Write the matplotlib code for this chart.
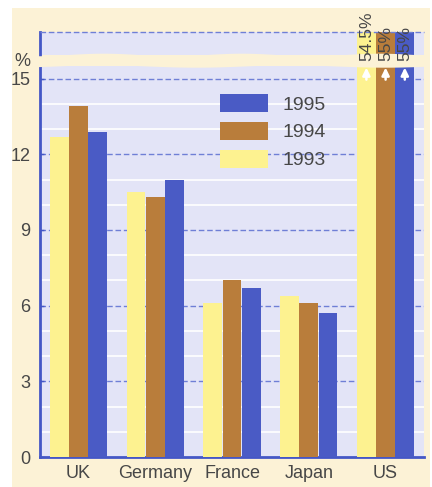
import numpy as np
import matplotlib
matplotlib.use("Agg")
import matplotlib.pyplot as plt
from matplotlib.patches import Rectangle, Polygon, Patch
from matplotlib.transforms import blended_transform_factory

plt.rcParams['font.family'] = ['Liberation Sans', 'DejaVu Sans']

# Data
countries = ["UK", "Germany", "France", "Japan", "US"]
years = ["1993", "1994", "1995"]
v1993 = [12.7, 10.5, 6.1, 6.4, 54.5]
v1994 = [13.9, 10.3, 7.0, 6.1, 55.0]
v1995 = [12.9, 11.0, 6.7, 5.7, 55.0]
us_labels = ["54.5%", "55%", "55%"]
yticks = [0, 3, 6, 9, 12, 15]

series = [v1993, v1994, v1995]
colors = ["#fdf290", "#b97d3b", "#4a5bc5"]
cream = "#fcf2d6"
panel = "#e3e4f7"
gridblue = "#6f7fd6"
spineblue = "#4457c6"
textgray = "#474747"

W, H = 432, 487
fig = plt.figure(figsize=(W / 100, H / 100), dpi=100, facecolor="white")

def fx(px):
    return px / W

def fy(py):
    return 1 - py / H

# cream card behind the chart
fig.patches.append(Rectangle((fx(12), 0), fx(430) - fx(12), fy(8), transform=fig.transFigure,
                             facecolor=cream, edgecolor="none", zorder=-5))

left, right = 40, 424
ax = fig.add_axes([fx(left), fy(457), fx(right - left), fy(66) - fy(457)])
ax_top = fig.add_axes([fx(left), fy(55), fx(right - left), fy(32) - fy(55)])

x = np.arange(len(countries))
width = 0.245
offsets = [-0.25, 0.0, 0.25]

for a in (ax, ax_top):
    a.set_facecolor(panel)
    for vals, c, off in zip(series, colors, offsets):
        a.bar(x + off, vals, width, color=c, edgecolor="none", zorder=3)
    a.set_xlim(-0.5, len(countries) - 0.5)
    for s in ("top", "right", "bottom"):
        a.spines[s].set_visible(False)
    a.spines["left"].set_color(spineblue)
    a.spines["left"].set_linewidth(2)

# lower panel
ax.set_ylim(0, 15.5)
ax.spines["bottom"].set_visible(True)
ax.spines["bottom"].set_color(spineblue)
ax.spines["bottom"].set_linewidth(2)
for v in range(1, 16):
    if v % 3 == 0:
        ax.axhline(v, color=gridblue, lw=1.0, ls=(0, (4, 2)), zorder=1)
    else:
        ax.axhline(v, color="white", lw=1.2, zorder=1)
ax.set_yticks(yticks)
ax.set_yticklabels([str(t) for t in yticks])
ax.tick_params(axis="y", direction="in", length=3, width=1, color=spineblue,
               labelsize=13, labelcolor=textgray, pad=7)
ax.set_xticks(x)
ax.set_xticklabels(countries)
ax.tick_params(axis="x", length=0, labelsize=13, labelcolor=textgray, pad=6)

# upper panel (broken scale for the US)
ax_top.set_ylim(53.6, 54.5)
ax_top.set_yticks([])
ax_top.set_xticks([])
ax_top.axhline(54.5, color=gridblue, lw=1.0, ls=(0, (4, 2)), zorder=4, clip_on=False)

# white arrows showing the US bars continue upward
for vals, off in zip(series, offsets):
    ax.annotate("", xy=(x[-1] + off, 15.55), xytext=(x[-1] + off, 14.85),
                arrowprops=dict(arrowstyle="-|>,head_length=0.45,head_width=0.22",
                                color="white", lw=1.8),
                annotation_clip=False, zorder=5)

# wavy break band
xs = np.linspace(34, right + 1, 200)
top_edge = 55 + 1.3 * np.sin(xs / 22.0)
bot_edge = 66.5 + 1.2 * np.sin(xs / 30.0 + 1.3)
pts = np.concatenate([np.column_stack([fx(xs), fy(top_edge)]),
                      np.column_stack([fx(xs[::-1]), fy(bot_edge[::-1])])])
fig.patches.append(Polygon(pts, closed=True, transform=fig.transFigure,
                           facecolor=cream, edgecolor="none", zorder=10))

# value labels for the US bars
trans = blended_transform_factory(ax_top.transData, fig.transFigure)
for lbl, off in zip(us_labels, offsets):
    fig.text(x[-1] + off, fy(61), lbl, transform=trans, rotation=90,
             ha="center", va="bottom", fontsize=12.5, color=textgray, zorder=20)

fig.text(fx(22), fy(62), "%", ha="center", va="center", fontsize=13,
         color=textgray, zorder=20)

# legend
handles = [Patch(facecolor=colors[2], edgecolor="none", label=years[2]),
           Patch(facecolor=colors[1], edgecolor="none", label=years[1]),
           Patch(facecolor=colors[0], edgecolor="none", label=years[0])]
leg = ax.legend(handles=handles, loc="upper left",
                bbox_to_anchor=(fx(220), fy(94)), bbox_transform=fig.transFigure,
                frameon=False, fontsize=14, handlelength=2.47, handleheight=1.05,
                labelspacing=0.42, handletextpad=0.75, borderpad=0, borderaxespad=0)
for t in leg.get_texts():
    t.set_color(textgray)

fig.savefig("out.png", dpi=100, facecolor="white")
